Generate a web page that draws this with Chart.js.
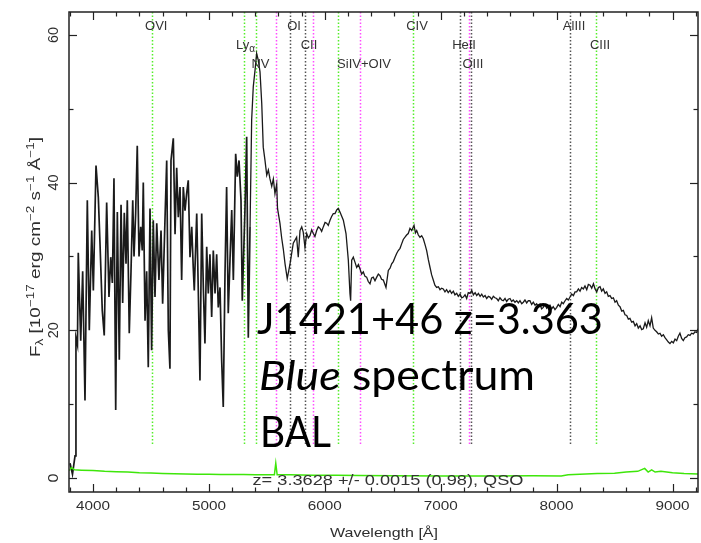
<!DOCTYPE html>
<html>
<head>
<meta charset="utf-8">
<script src="https://cdn.jsdelivr.net/npm/chart.js@4.4.1/dist/chart.umd.min.js"></script>
<style>
  html, body { margin: 0; padding: 0; background: #fff; }
</style>
</head>
<body>
<canvas id="spec" width="701" height="543"></canvas>
<script>
// Flux: wavelength in Angstrom, F_lambda in 1e-17 erg/cm2/s/A
// Lyman alpha forest (blue end)
const forestWave = [3802, 3823, 3845, 3853, 3866, 3873, 3894, 3911, 3931, 3951, 3968, 3989, 4003, 4026, 4046, 4060, 4080, 4097, 4118, 4138, 4153, 4167, 4181, 4196, 4210, 4227, 4242, 4256, 4270, 4285, 4296, 4313, 4328, 4343, 4354, 4368, 4382, 4397, 4412, 4425, 4434, 4449, 4463, 4477, 4492, 4506, 4520, 4535, 4550, 4569, 4587, 4601, 4621, 4636, 4650, 4664];
const forestFlux = [2, 0.5, 3, 19, 18, 30.5, 18.6, 28, 10.5, 37.6, 20, 33.5, 25.4, 42.3, 38, 32, 22.7, 19.3, 37.3, 24.5, 29.9, 26.4, 40.6, 9.2, 36, 16, 37, 23.7, 35.9, 29, 37.6, 19.6, 28, 37.6, 30, 35.8, 45, 30, 34, 30.8, 40, 21.3, 28, 15, 36.5, 17.3, 34.9, 24.5, 34.5, 26.8, 33.5, 23.6, 34.9, 43, 20, 14.8];
const forest2Wave = [4673, 4693, 4708, 4722, 4736, 4751, 4765, 4779, 4794, 4808, 4822, 4837, 4852, 4865, 4874, 4895, 4909, 4923, 4938, 4952, 4966, 4981, 4995, 5009, 5024, 5038, 5053, 5067, 5081, 5096, 5110, 5124, 5139, 5153, 5167, 5182, 5197, 5211, 5231, 5245, 5260, 5277, 5288, 5300, 5311, 5326, 5340, 5355];
const forest2Flux = [43, 46, 33, 42, 35.3, 39.4, 26.8, 39.4, 36.2, 38.5, 40.3, 29.9, 34, 28.5, 25.4, 35.8, 25, 13.2, 35.8, 25.8, 18.2, 31.3, 25, 30.3, 21.8, 30.8, 25, 30.3, 23.1, 25.8, 16, 9.6, 27.7, 39.4, 22.3, 29.5, 36.3, 26.8, 43.9, 40.8, 43, 37.6, 24, 30.4, 36.2, 46.2, 19, 34];
// Lya/NV peak through SiIV
const peakWave = [5355, 5369, 5383, 5398, 5412, 5426, 5441, 5456, 5469, 5484, 5499, 5513, 5527, 5542, 5556, 5570, 5585, 5592, 5613, 5628, 5642, 5657, 5676, 5700, 5728, 5757, 5771, 5786, 5801, 5814, 5829, 5844, 5858, 5872, 5887, 5901, 5915, 5930, 5944, 5959, 5973, 5987, 6002, 6016, 6030, 6045, 6059, 6073, 6088, 6103, 6116, 6131, 6160, 6183, 6203, 6217, 6223, 6232, 6246];
const peakFlux = [34, 48.5, 53, 55.2, 57.5, 56.6, 55, 50.7, 44.8, 43, 41, 41.7, 40.5, 39.5, 40.5, 38.5, 39.8, 36.5, 34.5, 32.5, 31, 29, 27, 29, 31.8, 32.6, 29.9, 33.5, 34, 33.3, 31.2, 33.1, 32.5, 32.8, 33.6, 33.1, 32.7, 33.5, 34, 33.8, 33.4, 34, 34.6, 34.5, 34.2, 34.9, 35.4, 35.8, 35.8, 36.3, 36.5, 36, 34.9, 33.1, 29.5, 25, 24, 29.5, 29.9];
// CIV region
const civWave = [6261, 6275, 6290, 6304, 6318, 6332, 6347, 6361, 6375, 6390, 6404, 6418, 6433, 6448, 6462, 6476, 6490, 6505, 6528, 6548, 6563, 6577, 6591, 6606, 6620, 6634, 6649, 6663, 6677, 6692, 6706, 6720, 6735, 6750, 6770, 6782, 6793, 6807, 6821, 6836, 6850, 6865, 6879, 6893, 6908, 6922, 6936, 6950, 6965, 6980, 6994, 7008, 7022, 7037, 7051, 7065, 7080, 7094, 7109, 7123, 7138, 7152, 7167, 7181, 7195, 7210, 7224, 7238, 7253];
const civFlux = [29.2, 28.5, 28.9, 28.3, 27.6, 27.9, 27.3, 27.2, 26.6, 26.3, 27.1, 27.2, 26.7, 27.2, 27.6, 27.4, 26.9, 26.8, 25.8, 28.1, 28.4, 29, 29.3, 29.9, 30.4, 30.8, 31.1, 31.7, 32.3, 32.6, 32.9, 33.1, 33.8, 33.5, 34.2, 33.2, 33.5, 32.9, 32.6, 32.8, 32.4, 31.6, 30.8, 29.6, 28.5, 27.5, 26.8, 26.1, 25.8, 25.9, 25.5, 25.7, 25.6, 25.2, 25.5, 25.1, 25.4, 25.0, 25.3, 24.8, 25, 24.6, 24.9, 24.4, 24.5, 24.8, 24.3, 25.1, 25];
// red end
const redWave = [7268, 7282, 7297, 7311, 7325, 7340, 7354, 7368, 7383, 7397, 7411, 7425, 7440, 7454, 7468, 7483, 7497, 7511, 7526, 7540, 7555, 7569, 7583, 7598, 7612, 7626, 7641, 7656, 7670, 7684, 7699, 7713, 7727, 7742, 7756, 7770, 7785, 7799, 7814, 7828, 7842, 7857, 7871, 7885, 7900, 7914, 7928, 7943, 7957, 7971, 7986, 8001, 8015, 8030, 8044, 8058, 8073, 8087, 8101, 8116, 8130, 8145, 8159, 8173, 8188, 8202, 8216, 8231, 8245, 8260, 8274, 8289, 8303, 8318, 8332, 8346, 8361, 8375, 8389, 8403, 8418, 8432, 8446, 8461, 8475, 8490, 8504, 8518, 8533, 8547, 8562, 8576, 8590, 8605, 8619, 8633, 8648, 8662, 8677, 8691, 8705, 8720, 8734, 8748, 8763, 8777, 8791, 8806, 8820, 8834, 8849, 8863, 8878, 8892, 8906, 8921, 8935, 8950, 8964, 8978, 8993, 9007, 9022, 9036, 9050, 9064, 9079, 9093, 9107, 9122, 9136, 9151, 9165, 9180, 9194, 9208, 9220];
const redFlux = [25.4, 24.8, 25.1, 24.7, 25.0, 24.6, 24.9, 24.5, 24.7, 24.3, 24.6, 24.5, 24.2, 24.6, 24.4, 24.3, 24.0, 24.4, 24.1, 24, 24.3, 23.9, 24.2, 24.3, 23.9, 24.1, 23.8, 24, 23.7, 24.0, 23.6, 23.8, 24.1, 23.7, 24.0, 24, 23.5, 23.8, 23.4, 23.6, 23.2, 23.5, 22.9, 23.1, 23.5, 23.0, 23.3, 23.4, 22.9, 23.2, 22.8, 23.1, 23.5, 23.2, 23.8, 23.6, 24.0, 24.3, 24.1, 24.5, 24.9, 24.7, 25.2, 25.2, 25.6, 25.3, 25.8, 25.6, 26.0, 25.5, 26.2, 26.1, 25.7, 26.3, 25.6, 25.2, 25.8, 25.9, 25.3, 25.6, 25.0, 25.2, 24.6, 24.7, 24.3, 24.4, 23.8, 24, 23.4, 23.2, 22.6, 22.7, 22.1, 22.0, 21.5, 21.6, 21.1, 21.2, 20.6, 20.9, 20.3, 20.6, 20.1, 20.2, 21.0, 20.4, 21.3, 20.6, 21.7, 20.3, 20, 19.8, 19.5, 19.6, 19.2, 19.4, 19, 18.7, 18.4, 18.2, 18.5, 18.3, 18.8, 18.6, 19.2, 19.6, 18.9, 18.6, 19.0, 19.1, 19.4, 19.3, 19.6, 19.5, 19.8, 19.7, 20.2];

// error spectrum (green)
const errWave = [3795, 3815, 3840, 3900, 4000, 4100, 4200, 4300, 4400, 4500, 4600, 4700, 4800, 4900, 5000, 5100, 5200, 5300, 5400, 5500, 5565, 5577, 5589, 5700, 5900, 6100, 6300, 6600, 7000, 7400, 7800, 8040, 8100, 8200, 8350, 8500, 8600, 8700, 8760, 8790, 8820, 8850, 8900, 9000, 9100, 9220];
const errFlux = [1.0, 1.4, 1.1, 1.05, 1.0, 0.9, 0.85, 0.8, 0.72, 0.68, 0.62, 0.58, 0.55, 0.52, 0.5, 0.48, 0.47, 0.46, 0.45, 0.44, 0.44, 2.0, 0.44, 0.42, 0.38, 0.36, 0.33, 0.3, 0.28, 0.27, 0.3, 0.28, 0.45, 0.5, 0.6, 0.65, 0.8, 0.9, 1.3, 0.8, 1.1, 0.8, 0.9, 0.7, 0.6, 0.55];

// marked lines at z = 3.3628
const lineNames = ["OVI", "Lyα", "NV", "", "OI", "CII", "", "", "SiIV+OIV", "CIV", "HeII", "OIII", "", "AlIII", "CIII"];
const lineWaves = [4511, 5305, 5410, 5580, 5700, 5829, 5898, 6114, 6304, 6761, 7167, 7244, 7262, 8116, 8340];
const lineKinds = ["em", "em", "em", "abs", "ism", "ism", "abs", "em", "abs", "em", "ism", "abs", "ism", "ism", "em"];
const lineFloor = 4.5;

const xTicks = [4000, 5000, 6000, 7000, 8000, 9000];
const yTicks = [0, 20, 40, 60];

const fitLabel = "z= 3.3628 +/- 0.0015 (0.98), QSO";
const noteLines = ["J1421+46 z=3.363", "spectrum", "BAL"];

const kindColors = { em: "#55ee2a", abs: "#ff4dff", ism: "#555555" };
const labelRow = { OVI: 0, "Lyα": 1, NV: 2, OI: 0, CII: 1, "SiIV+OIV": 2, CIV: 0, HeII: 1, OIII: 2, AlIII: 0, CIII: 1 };
const rowY = [26, 45, 64];
const pgFont = '"Liberation Sans", Arial, sans-serif';
const noteFont = 'Lato, "Open Sans", sans-serif';

function pairs(w, f) {
  return w.map((v, i) => ({ x: v, y: f[i] }));
}

const forestData = [].concat(pairs(forestWave, forestFlux), pairs(forest2Wave, forest2Flux));
const restData = [].concat(pairs(peakWave, peakFlux), pairs(civWave, civFlux), pairs(redWave, redFlux));

// draw text squeezed/stretched to a given width
function fitted(ctx, str, cx, cy, size, width, rot) {
  ctx.save();
  ctx.font = size + "px " + pgFont;
  const sx = width ? width / ctx.measureText(str).width : 1;
  ctx.translate(cx, cy);
  if (rot) ctx.rotate(rot);
  ctx.scale(sx, 1);
  ctx.textAlign = "center";
  ctx.textBaseline = "middle";
  ctx.fillText(str, 0, 0);
  ctx.restore();
}

const pgplotDecor = {
  id: "pgplotDecor",
  beforeDatasetsDraw(chart) {
    const { ctx, chartArea: a, scales } = chart;
    const yEnd = scales.y.getPixelForValue(lineFloor);
    ctx.save();
    ctx.lineWidth = 1.5;
    ctx.setLineDash([1.5, 2]);
    lineWaves.forEach((w, i) => {
      const px = Math.round(scales.x.getPixelForValue(w)) + 0.5;
      ctx.strokeStyle = kindColors[lineKinds[i]];
      ctx.beginPath();
      ctx.moveTo(px, a.top);
      ctx.lineTo(px, yEnd);
      ctx.stroke();
    });
    ctx.restore();
  },
  afterDraw(chart) {
    const { ctx, chartArea: a, scales } = chart;
    const xs = scales.x, ys = scales.y;
    ctx.save();
    ctx.strokeStyle = "#222";
    ctx.lineWidth = 1.5;
    ctx.strokeRect(a.left, a.top, a.right - a.left, a.bottom - a.top);

    // inward ticks on all four sides
    ctx.lineWidth = 1.2;
    const seg = (x1, y1, x2, y2) => { ctx.beginPath(); ctx.moveTo(x1, y1); ctx.lineTo(x2, y2); ctx.stroke(); };
    for (let v = 3800; v <= 9200; v += 200) {
      const px = Math.round(xs.getPixelForValue(v)) + 0.5;
      const len = v % 1000 === 0 ? 8 : 4.5;
      seg(px, a.bottom, px, a.bottom - len);
      seg(px, a.top, px, a.top + len);
    }
    for (let v = 0; v <= 60; v += 10) {
      const py = Math.round(ys.getPixelForValue(v)) + 0.5;
      const len = v % 20 === 0 ? 8 : 4.5;
      seg(a.left, py, a.left + len, py);
      seg(a.right, py, a.right - len, py);
    }

    // tick labels
    ctx.fillStyle = "#2e2e2e";
    xTicks.forEach(v => fitted(ctx, String(v), xs.getPixelForValue(v), 506, 13, 34));
    yTicks.forEach(v => fitted(ctx, String(v), 54, ys.getPixelForValue(v), 14, v === 0 ? 9 : 16, -Math.PI / 2));

    // axis titles
    fitted(ctx, "Wavelength [Å]", 384, 533, 13, 108);
    const parts = [
      ["F", 0], ["λ", 1], [" [10", 0], ["−17", 2], [" erg cm", 0], ["−2", 2],
      [" s", 0], ["−1", 2], [" Å", 0], ["−1", 2], ["]", 0]
    ];
    const fontFor = k => (k === 0 ? 14 : 10) + "px " + pgFont;
    let total = 0;
    parts.forEach(p => { ctx.font = fontFor(p[1]); total += ctx.measureText(p[0]).width; });
    ctx.save();
    ctx.translate(40, 357);
    ctx.rotate(-Math.PI / 2);
    ctx.scale(220 / total, 1);
    ctx.textAlign = "left";
    ctx.textBaseline = "alphabetic";
    let cur = 0;
    parts.forEach(p => {
      ctx.font = fontFor(p[1]);
      const dy = p[1] === 1 ? 3 : p[1] === 2 ? -6 : 0;
      ctx.fillText(p[0], cur, dy);
      cur += ctx.measureText(p[0]).width;
    });
    ctx.restore();

    // line identifications
    ctx.fillStyle = "#333";
    lineNames.forEach((name, i) => {
      if (!name) return;
      const px = xs.getPixelForValue(lineWaves[i]) + 4;
      const py = rowY[labelRow[name]];
      if (name === "Lyα") {
        ctx.font = "13px " + pgFont;
        ctx.textAlign = "right";
        ctx.textBaseline = "middle";
        ctx.fillText("Ly", px + 1, py);
        ctx.font = "10px " + pgFont;
        ctx.textAlign = "left";
        ctx.fillText("α", px + 1, py + 4);
      } else {
        fitted(ctx, name, px, py, 13, 0);
      }
    });

    // redshift fit result
    fitted(ctx, fitLabel, 388, 481, 14, 271);

    // overlay note, each line fitted to its width in the picture
    ctx.fillStyle = "#000";
    ctx.textAlign = "left";
    ctx.textBaseline = "alphabetic";
    ctx.font = "40px " + noteFont;
    const size = 40 * 346 / ctx.measureText(noteLines[0]).width;
    const plain = size + "px " + noteFont;
    const ital = "italic " + size + "px " + noteFont;
    ctx.font = plain;
    ctx.fillText(noteLines[0], 257, 334);

    ctx.font = ital;
    const blueW = ctx.measureText("Blue").width;
    ctx.font = plain;
    const gapW = ctx.measureText(" ").width;
    const specW = ctx.measureText(noteLines[1]).width;
    const s2 = 276 / (blueW + gapW + specW);
    ctx.save();
    ctx.translate(259, 390);
    ctx.scale(s2, 1);
    ctx.font = ital;
    ctx.fillText("Blue", 0, 0);
    ctx.font = plain;
    ctx.fillText(noteLines[1], blueW + gapW, 0);
    ctx.restore();

    const s3 = 71 / ctx.measureText(noteLines[2]).width;
    ctx.save();
    ctx.translate(260, 447);
    ctx.scale(s3, 1);
    ctx.fillText(noteLines[2], 0, 0);
    ctx.restore();
    ctx.restore();
  }
};

new Chart(document.getElementById("spec"), {
  type: "line",
  data: {
    datasets: [
      {
        data: pairs(errWave, errFlux),
        borderColor: "#3ee60a",
        borderWidth: 1.5,
        pointRadius: 0,
        tension: 0,
      },
      {
        data: forestData,
        borderColor: "#1a1a1a",
        borderWidth: 1.7,
        pointRadius: 0,
        tension: 0,
      },
      {
        data: restData,
        borderColor: "#1a1a1a",
        borderWidth: 1.3,
        pointRadius: 0,
        tension: 0,
      },
    ],
  },
  options: {
    responsive: false,
    animation: false,
    layout: { padding: { left: 69, top: 12, right: 3, bottom: 51 } },
    plugins: {
      legend: { display: false },
      tooltip: { enabled: false },
    },
    scales: {
      x: { type: "linear", min: 3793, max: 9220, display: false },
      y: { min: -1.9, max: 63.1, display: false },
    },
  },
  plugins: [pgplotDecor],
});
</script>
</body>
</html>
